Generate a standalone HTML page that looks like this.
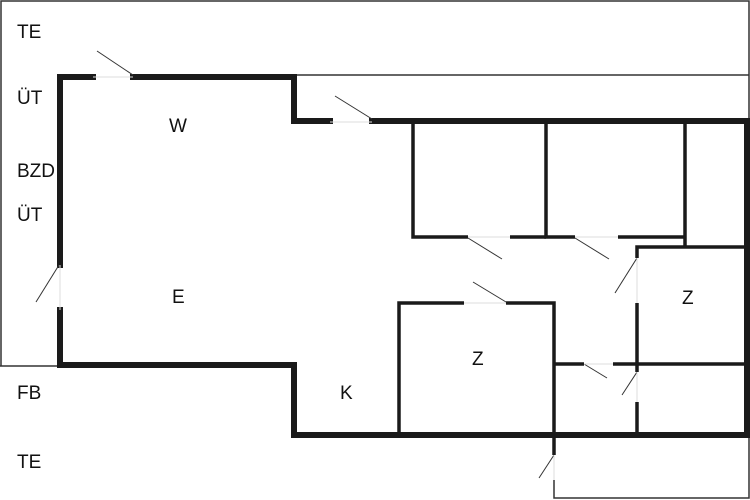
<!DOCTYPE html>
<html><head><style>html,body{margin:0;padding:0;background:#fff}svg{display:block}text{font-family:"Liberation Sans",sans-serif;font-size:19px;fill:#111}</style></head>
<body>
<svg width="750" height="500" viewBox="0 0 750 500" xmlns="http://www.w3.org/2000/svg">
<g stroke="#333" stroke-width="1.5" fill="none">
<polyline points="1,366 1,1 749,1 749,122"/>
<line x1="0" y1="366" x2="60" y2="366"/>
<line x1="294" y1="75" x2="749" y2="75"/>
<polyline points="554,480 554,498 749,498 749,435"/>
</g>
<g stroke="#1a1a1a" stroke-width="6" fill="none" stroke-linecap="square">
<polyline points="60,265 60,77 93,77"/>
<polyline points="133,77 294,77 294,121 330,121"/>
<polyline points="372,121 747,121 747,435 294,435 294,365 60,365 60,310"/>
</g>
<g stroke="#1a1a1a" stroke-width="3.5" fill="none">
<polyline points="413,122 413,237 468,237"/>
<line x1="510" y1="237" x2="546" y2="237"/>
<polyline points="546,122 546,237 575,237"/>
<polyline points="618,237 685,237"/>
<line x1="685" y1="122" x2="685" y2="247"/>
<polyline points="637,258 637,247 747,247"/>
<line x1="637" y1="303" x2="637" y2="372"/>
<line x1="637" y1="402" x2="637" y2="435"/>
<polyline points="399,435 399,303 464,303"/>
<polyline points="506,303 554,303 554,455"/>
<line x1="554" y1="364" x2="584" y2="364"/>
<line x1="613" y1="364" x2="747" y2="364"/>
</g>
<g stroke="#333" stroke-width="1">
<line x1="97" y1="51" x2="133" y2="75"/>
<line x1="335" y1="96" x2="372" y2="119"/>
<line x1="468" y1="238" x2="502" y2="259"/>
<line x1="575" y1="238" x2="609" y2="259"/>
<line x1="473" y1="282" x2="506" y2="302"/>
<line x1="584" y1="364" x2="607" y2="378"/>
<line x1="637" y1="258" x2="615" y2="293"/>
<line x1="637" y1="372" x2="622" y2="395"/>
<line x1="59" y1="265" x2="36" y2="302"/>
<line x1="554" y1="455" x2="539" y2="478"/>
</g>
<g stroke="#ddd" stroke-width="1">
<line x1="93" y1="77" x2="133" y2="77"/>
<line x1="330" y1="122" x2="372" y2="122"/>
<line x1="468" y1="237" x2="510" y2="237"/>
<line x1="575" y1="237" x2="618" y2="237"/>
<line x1="464" y1="303" x2="506" y2="303"/>
<line x1="584" y1="364" x2="613" y2="364"/>
<line x1="637" y1="258" x2="637" y2="303"/>
<line x1="637" y1="372" x2="637" y2="402"/>
<line x1="60" y1="265" x2="60" y2="310"/>
<line x1="554" y1="455" x2="554" y2="480"/>
</g>
<text x="17" y="38">TE</text>
<text x="17" y="104">ÜT</text>
<text x="17" y="177">BZD</text>
<text x="17" y="221">ÜT</text>
<text x="17" y="399">FB</text>
<text x="17" y="468">TE</text>
<text x="169" y="132">W</text>
<text x="172" y="303">E</text>
<text x="340" y="399">K</text>
<text x="472" y="365">Z</text>
<text x="682" y="304">Z</text>
</svg>
</body></html>
